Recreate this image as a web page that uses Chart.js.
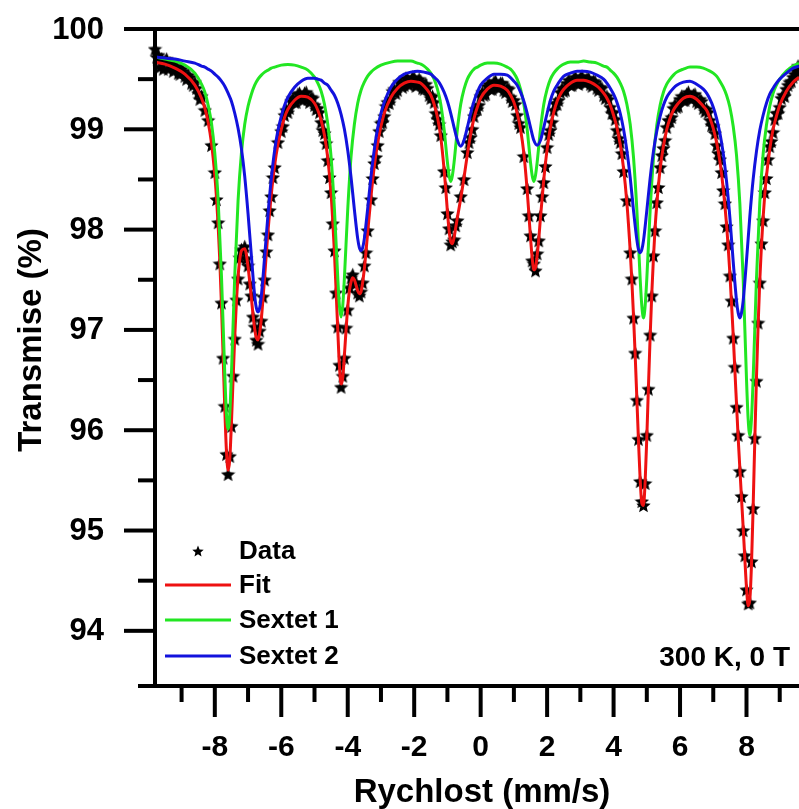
<!DOCTYPE html>
<html><head><meta charset="utf-8">
<script src="https://cdn.jsdelivr.net/npm/chart.js@4.4.0/dist/chart.umd.min.js"></script>
<style>html,body{margin:0;padding:0;background:#fff;overflow:hidden}canvas{display:block}</style>
</head><body>
<canvas id="c" width="799" height="809"></canvas>
<script>
// ---- values ----
const dataPoints = [[-9.8,99.80],[-9.75,99.72],[-9.7,99.74],[-9.65,99.62],[-9.6,99.70],[-9.55,99.60],[-9.5,99.68],[-9.45,99.70],[-9.4,99.60],[-9.35,99.66],[-9.3,99.64],[-9.25,99.58],[-9.2,99.63],[-9.1,99.56],[-9.0,99.60],[-8.9,99.53],[-8.8,99.54],[-8.7,99.46],[-8.6,99.47],[-8.5,99.36],[-8.4,99.33],[-8.3,99.19],[-8.2,99.09],[-8.1,98.84],[-8.0,98.57],[-7.95,98.30],[-7.9,98.07],[-7.85,97.66],[-7.8,97.27],[-7.75,96.72],[-7.7,96.24],[-7.65,95.76],[-7.6,95.56],[-7.55,95.74],[-7.5,96.04],[-7.45,96.54],[-7.4,96.91],[-7.35,97.30],[-7.3,97.51],[-7.25,97.72],[-7.2,97.80],[-7.15,97.78],[-7.1,97.83],[-7.05,97.71],[-7.0,97.64],[-6.95,97.46],[-6.9,97.34],[-6.85,97.13],[-6.8,97.03],[-6.75,96.90],[-6.7,96.86],[-6.65,96.99],[-6.6,97.09],[-6.55,97.33],[-6.5,97.50],[-6.45,97.78],[-6.4,97.95],[-6.35,98.19],[-6.3,98.33],[-6.25,98.52],[-6.2,98.62],[-6.1,98.87],[-6.0,98.98],[-5.9,99.14],[-5.8,99.17],[-5.7,99.28],[-5.6,99.27],[-5.5,99.35],[-5.4,99.31],[-5.3,99.36],[-5.2,99.30],[-5.1,99.32],[-5.0,99.24],[-4.9,99.21],[-4.8,99.07],[-4.7,98.96],[-4.6,98.69],[-4.5,98.37],[-4.45,98.06],[-4.4,97.79],[-4.35,97.37],[-4.3,97.03],[-4.25,96.65],[-4.2,96.43],[-4.15,96.54],[-4.1,96.72],[-4.05,97.02],[-4.0,97.20],[-3.95,97.42],[-3.9,97.52],[-3.85,97.55],[-3.8,97.46],[-3.75,97.47],[-3.7,97.37],[-3.65,97.34],[-3.6,97.38],[-3.55,97.47],[-3.5,97.64],[-3.45,97.77],[-3.4,97.99],[-3.3,98.30],[-3.2,98.66],[-3.1,98.84],[-3.0,99.06],[-2.9,99.13],[-2.8,99.27],[-2.7,99.30],[-2.6,99.40],[-2.5,99.39],[-2.4,99.47],[-2.3,99.44],[-2.2,99.50],[-2.1,99.46],[-2.0,99.51],[-1.9,99.45],[-1.8,99.48],[-1.7,99.40],[-1.6,99.41],[-1.5,99.31],[-1.4,99.27],[-1.3,99.10],[-1.2,98.94],[-1.1,98.58],[-1.05,98.42],[-1.0,98.16],[-0.95,98.01],[-0.9,97.85],[-0.85,97.88],[-0.8,97.90],[-0.75,98.04],[-0.7,98.09],[-0.6,98.33],[-0.5,98.50],[-0.4,98.77],[-0.3,98.92],[-0.2,99.13],[-0.1,99.20],[0.0,99.33],[0.1,99.34],[0.2,99.43],[0.3,99.40],[0.4,99.47],[0.5,99.42],[0.6,99.46],[0.7,99.39],[0.8,99.41],[0.9,99.32],[1.0,99.29],[1.1,99.14],[1.2,99.02],[1.3,98.73],[1.4,98.41],[1.45,98.14],[1.5,97.94],[1.55,97.69],[1.6,97.66],[1.65,97.59],[1.7,97.76],[1.75,97.89],[1.8,98.14],[1.9,98.47],[2.0,98.82],[2.1,98.99],[2.2,99.19],[2.3,99.25],[2.4,99.37],[2.5,99.38],[2.6,99.46],[2.7,99.44],[2.8,99.50],[2.9,99.46],[3.0,99.51],[3.1,99.47],[3.2,99.50],[3.3,99.45],[3.4,99.48],[3.5,99.41],[3.6,99.42],[3.7,99.34],[3.8,99.33],[3.9,99.22],[4.0,99.17],[4.1,98.99],[4.2,98.87],[4.3,98.58],[4.4,98.29],[4.5,97.77],[4.55,97.51],[4.6,97.12],[4.65,96.77],[4.7,96.30],[4.75,95.91],[4.8,95.49],[4.85,95.29],[4.9,95.25],[4.95,95.47],[5.0,95.95],[5.05,96.41],[5.1,96.95],[5.15,97.34],[5.2,97.74],[5.25,97.99],[5.3,98.27],[5.35,98.42],[5.4,98.62],[5.5,98.81],[5.6,99.02],[5.7,99.08],[5.8,99.21],[5.9,99.22],[6.0,99.30],[6.1,99.29],[6.2,99.35],[6.3,99.31],[6.4,99.34],[6.5,99.28],[6.6,99.30],[6.7,99.21],[6.8,99.20],[6.9,99.09],[7.0,99.03],[7.1,98.84],[7.2,98.70],[7.3,98.39],[7.35,98.26],[7.4,98.03],[7.45,97.85],[7.5,97.54],[7.55,97.29],[7.6,96.92],[7.65,96.63],[7.7,96.23],[7.75,95.95],[7.8,95.59],[7.85,95.34],[7.9,95.00],[7.95,94.75],[8.0,94.41],[8.05,94.27],[8.1,94.28],[8.15,94.69],[8.2,95.22],[8.25,95.92],[8.3,96.49],[8.35,97.07],[8.4,97.47],[8.45,97.86],[8.5,98.09],[8.55,98.37],[8.6,98.51],[8.7,98.83],[8.8,98.97],[8.9,99.16],[9.0,99.22],[9.1,99.34],[9.2,99.40],[9.3,99.47],[9.4,99.52],[9.5,99.58],[9.55,99.63]];

const dataPointsFlat = [[-9.15,99.62],[-9.05,99.55],[-8.95,99.58],[-8.85,99.50],[-8.75,99.52],[-8.65,99.44],[-8.55,99.41],[-8.45,99.30],[-5.95,99.03],[-5.85,99.19],[-5.75,99.21],[-5.65,99.31],[-5.55,99.27],[-5.45,99.36],[-5.35,99.29],[-5.25,99.37],[-5.15,99.27],[-5.05,99.31],[-4.95,99.20],[-4.85,99.17],[-4.75,98.99],[-4.65,98.86],[-4.55,98.52],[-3.25,98.51],[-3.15,98.72],[-3.05,98.98],[-2.95,99.07],[-2.85,99.23],[-2.75,99.26],[-2.65,99.38],[-2.55,99.36],[-2.45,99.47],[-2.35,99.42],[-2.25,99.51],[-2.15,99.44],[-2.05,99.52],[-1.95,99.43],[-1.85,99.50],[-1.75,99.41],[-1.65,99.45],[-1.55,99.34],[-1.45,99.33],[-1.35,99.16],[-1.25,99.05],[-0.35,98.87],[-0.25,99.00],[-0.15,99.20],[-0.05,99.24],[0.05,99.37],[0.15,99.35],[0.25,99.45],[0.35,99.40],[0.45,99.48],[0.55,99.41],[0.65,99.46],[0.75,99.37],[0.85,99.40],[0.95,99.28],[1.05,99.25],[1.15,99.06],[1.85,98.33],[1.95,98.63],[2.05,98.95],[2.15,99.07],[2.25,99.26],[2.35,99.29],[2.45,99.41],[2.55,99.39],[2.65,99.49],[2.75,99.44],[2.85,99.52],[2.95,99.45],[3.05,99.53],[3.15,99.46],[3.25,99.51],[3.35,99.43],[3.45,99.47],[3.55,99.39],[3.65,99.41],[3.75,99.31],[3.85,99.30],[3.95,99.16],[4.05,99.10],[4.15,98.91],[4.25,98.76],[5.45,98.74],[5.55,98.89],[5.65,99.09],[5.75,99.12],[5.85,99.25],[5.95,99.23],[6.05,99.33],[6.15,99.29],[6.25,99.37],[6.35,99.30],[6.45,99.35],[6.55,99.26],[6.65,99.28],[6.75,99.18],[6.85,99.17],[6.95,99.04],[7.05,98.96],[7.15,98.76],[7.25,98.57],[8.65,98.70],[8.75,98.88],[8.85,99.10],[8.95,99.16],[9.05,99.31],[9.15,99.33],[9.25,99.44],[9.35,99.48],[9.45,99.55],[9.52,99.60]];

const fitCurve = [[-9.8,99.67],[-9.5,99.65],[-9.2,99.61],[-8.9,99.55],[-8.6,99.44],[-8.4,99.31],[-8.3,99.21],[-8.2,99.07],[-8.1,98.86],[-8.0,98.54],[-7.95,98.32],[-7.9,98.04],[-7.85,97.69],[-7.8,97.25],[-7.75,96.74],[-7.7,96.22],[-7.65,95.79],[-7.6,95.60],[-7.55,95.71],[-7.5,96.07],[-7.45,96.51],[-7.4,96.93],[-7.35,97.28],[-7.3,97.53],[-7.25,97.70],[-7.2,97.79],[-7.1,97.81],[-7.0,97.63],[-6.95,97.48],[-6.9,97.32],[-6.85,97.15],[-6.8,97.01],[-6.75,96.92],[-6.7,96.90],[-6.65,96.97],[-6.6,97.11],[-6.55,97.31],[-6.5,97.53],[-6.45,97.76],[-6.4,97.98],[-6.3,98.35],[-6.2,98.64],[-6.1,98.85],[-6.0,99.00],[-5.9,99.12],[-5.8,99.20],[-5.6,99.29],[-5.4,99.33],[-5.2,99.32],[-5.0,99.26],[-4.9,99.19],[-4.8,99.09],[-4.7,98.94],[-4.6,98.71],[-4.5,98.35],[-4.45,98.08],[-4.4,97.77],[-4.35,97.39],[-4.3,97.00],[-4.25,96.64],[-4.2,96.46],[-4.15,96.52],[-4.1,96.75],[-4.05,97.00],[-4.0,97.23],[-3.95,97.39],[-3.9,97.48],[-3.85,97.52],[-3.8,97.50],[-3.7,97.39],[-3.65,97.36],[-3.6,97.38],[-3.5,97.61],[-3.4,97.97],[-3.3,98.33],[-3.2,98.63],[-3.1,98.86],[-3.0,99.03],[-2.9,99.16],[-2.7,99.32],[-2.5,99.41],[-2.3,99.46],[-2.1,99.48],[-1.9,99.47],[-1.8,99.46],[-1.7,99.43],[-1.6,99.39],[-1.5,99.34],[-1.4,99.25],[-1.3,99.12],[-1.2,98.92],[-1.1,98.60],[-1.05,98.40],[-1.0,98.18],[-0.95,97.99],[-0.9,97.88],[-0.85,97.86],[-0.8,97.92],[-0.75,98.02],[-0.7,98.12],[-0.6,98.31],[-0.5,98.52],[-0.4,98.75],[-0.3,98.95],[-0.2,99.11],[-0.1,99.22],[0.0,99.31],[0.2,99.40],[0.4,99.44],[0.6,99.43],[0.8,99.39],[0.9,99.34],[1.0,99.27],[1.1,99.16],[1.2,99.00],[1.3,98.76],[1.4,98.39],[1.45,98.16],[1.5,97.92],[1.55,97.72],[1.6,97.60],[1.65,97.62],[1.7,97.74],[1.75,97.91],[1.8,98.12],[1.9,98.50],[2.0,98.80],[2.1,99.02],[2.2,99.17],[2.3,99.28],[2.4,99.35],[2.5,99.40],[2.7,99.46],[2.9,99.49],[3.1,99.49],[3.3,99.47],[3.5,99.43],[3.6,99.40],[3.7,99.36],[3.8,99.31],[3.9,99.24],[4.0,99.14],[4.1,99.02],[4.2,98.85],[4.3,98.61],[4.4,98.27],[4.5,97.79],[4.55,97.49],[4.6,97.14],[4.65,96.75],[4.7,96.32],[4.75,95.89],[4.8,95.51],[4.85,95.27],[4.9,95.25],[4.95,95.49],[5.0,95.93],[5.05,96.44],[5.1,96.93],[5.15,97.36],[5.2,97.72],[5.25,98.02],[5.3,98.25],[5.4,98.60],[5.5,98.83],[5.6,99.00],[5.7,99.11],[5.8,99.19],[5.9,99.24],[6.1,99.31],[6.3,99.33],[6.5,99.30],[6.7,99.23],[6.8,99.19],[6.9,99.11],[7.0,99.01],[7.1,98.87],[7.2,98.68],[7.3,98.41],[7.4,98.05],[7.45,97.82],[7.5,97.56],[7.55,97.26],[7.6,96.95],[7.65,96.60],[7.7,96.26],[7.75,95.92],[7.8,95.62],[7.85,95.32],[7.9,95.03],[7.95,94.72],[8.0,94.43],[8.05,94.25],[8.1,94.31],[8.15,94.66],[8.2,95.24],[8.25,95.90],[8.3,96.52],[8.35,97.05],[8.4,97.49],[8.45,97.84],[8.5,98.12],[8.55,98.35],[8.6,98.53],[8.7,98.80],[8.8,99.00],[8.9,99.13],[9.0,99.24],[9.2,99.38],[9.4,99.47],[9.58,99.52]];

const sextet1 = [[-9.8,99.72],[-9.5,99.70],[-9.2,99.68],[-8.9,99.64],[-8.6,99.56],[-8.4,99.45],[-8.3,99.37],[-8.2,99.24],[-8.1,99.06],[-8.0,98.76],[-7.9,98.30],[-7.8,97.54],[-7.7,96.56],[-7.65,96.16],[-7.6,96.01],[-7.55,96.16],[-7.5,96.56],[-7.4,97.54],[-7.3,98.29],[-7.2,98.76],[-7.1,99.05],[-7.0,99.23],[-6.9,99.35],[-6.8,99.44],[-6.7,99.50],[-6.6,99.54],[-6.5,99.57],[-6.4,99.59],[-6.3,99.61],[-6.2,99.62],[-6.0,99.64],[-5.8,99.645],[-5.6,99.64],[-5.4,99.62],[-5.2,99.59],[-5.0,99.52],[-4.9,99.46],[-4.8,99.38],[-4.7,99.25],[-4.6,99.05],[-4.5,98.72],[-4.4,98.20],[-4.3,97.52],[-4.25,97.24],[-4.2,97.13],[-4.15,97.24],[-4.1,97.52],[-4.0,98.20],[-3.9,98.73],[-3.8,99.05],[-3.7,99.26],[-3.6,99.39],[-3.5,99.47],[-3.4,99.53],[-3.3,99.57],[-3.2,99.60],[-3.0,99.64],[-2.7,99.67],[-2.5,99.68],[-2.3,99.68],[-2.1,99.68],[-1.9,99.66],[-1.8,99.65],[-1.7,99.63],[-1.6,99.60],[-1.5,99.56],[-1.4,99.50],[-1.3,99.40],[-1.2,99.25],[-1.1,99.00],[-1.0,98.67],[-0.95,98.54],[-0.9,98.48],[-0.85,98.54],[-0.8,98.67],[-0.7,99.00],[-0.6,99.25],[-0.5,99.40],[-0.4,99.50],[-0.3,99.56],[-0.2,99.60],[-0.1,99.62],[0.0,99.64],[0.2,99.66],[0.4,99.66],[0.6,99.65],[0.8,99.62],[0.9,99.60],[1.0,99.56],[1.1,99.50],[1.2,99.40],[1.3,99.25],[1.4,99.00],[1.5,98.67],[1.55,98.54],[1.6,98.48],[1.65,98.54],[1.7,98.67],[1.8,99.00],[1.9,99.25],[2.0,99.40],[2.1,99.50],[2.2,99.56],[2.3,99.60],[2.4,99.63],[2.5,99.65],[2.7,99.67],[2.9,99.67],[3.1,99.68],[3.3,99.67],[3.5,99.66],[3.7,99.63],[3.8,99.62],[3.9,99.59],[4.0,99.56],[4.1,99.52],[4.2,99.46],[4.3,99.38],[4.4,99.25],[4.5,99.05],[4.6,98.72],[4.7,98.20],[4.8,97.51],[4.85,97.24],[4.9,97.12],[4.95,97.24],[5.0,97.51],[5.1,98.19],[5.2,98.71],[5.3,99.04],[5.4,99.24],[5.5,99.37],[5.6,99.45],[5.7,99.50],[5.8,99.54],[5.9,99.57],[6.1,99.60],[6.3,99.62],[6.5,99.62],[6.7,99.61],[6.9,99.58],[7.0,99.56],[7.1,99.53],[7.2,99.48],[7.3,99.42],[7.4,99.34],[7.5,99.22],[7.6,99.03],[7.7,98.74],[7.8,98.26],[7.9,97.51],[8.0,96.51],[8.05,96.11],[8.1,95.95],[8.15,96.11],[8.2,96.51],[8.3,97.51],[8.4,98.27],[8.5,98.75],[8.6,99.04],[8.7,99.23],[8.8,99.36],[8.9,99.44],[9.0,99.50],[9.2,99.58],[9.4,99.63],[9.58,99.66]];

const sextet2 = [[-9.8,99.72],[-9.5,99.71],[-9.2,99.70],[-8.9,99.68],[-8.6,99.66],[-8.4,99.63],[-8.3,99.62],[-8.2,99.60],[-8.1,99.58],[-8.0,99.55],[-7.9,99.52],[-7.8,99.48],[-7.7,99.43],[-7.6,99.36],[-7.5,99.28],[-7.4,99.16],[-7.3,99.01],[-7.2,98.81],[-7.1,98.53],[-7.0,98.16],[-6.9,97.74],[-6.8,97.34],[-6.75,97.22],[-6.7,97.18],[-6.65,97.22],[-6.6,97.34],[-6.5,97.73],[-6.4,98.15],[-6.3,98.51],[-6.2,98.79],[-6.1,98.99],[-6.0,99.13],[-5.9,99.24],[-5.8,99.32],[-5.6,99.42],[-5.4,99.48],[-5.2,99.51],[-5.0,99.51],[-4.9,99.50],[-4.8,99.49],[-4.7,99.46],[-4.6,99.44],[-4.5,99.39],[-4.4,99.34],[-4.3,99.26],[-4.2,99.15],[-4.1,99.00],[-4.0,98.79],[-3.9,98.52],[-3.8,98.20],[-3.7,97.91],[-3.65,97.82],[-3.6,97.79],[-3.55,97.82],[-3.5,97.91],[-3.4,98.21],[-3.3,98.53],[-3.2,98.80],[-3.1,99.01],[-3.0,99.16],[-2.9,99.27],[-2.7,99.42],[-2.5,99.50],[-2.3,99.55],[-2.1,99.57],[-1.9,99.58],[-1.7,99.57],[-1.5,99.55],[-1.4,99.52],[-1.3,99.49],[-1.2,99.44],[-1.1,99.37],[-1.0,99.28],[-0.9,99.16],[-0.8,99.02],[-0.7,98.89],[-0.6,98.83],[-0.5,98.89],[-0.4,99.02],[-0.3,99.16],[-0.2,99.28],[-0.1,99.37],[0.0,99.44],[0.2,99.51],[0.4,99.55],[0.6,99.55],[0.8,99.54],[1.0,99.48],[1.1,99.44],[1.2,99.37],[1.3,99.28],[1.4,99.16],[1.5,99.02],[1.6,98.89],[1.7,98.84],[1.8,98.89],[1.9,99.02],[2.0,99.16],[2.1,99.29],[2.2,99.38],[2.3,99.44],[2.4,99.49],[2.5,99.53],[2.7,99.56],[2.9,99.58],[3.1,99.58],[3.3,99.57],[3.5,99.54],[3.7,99.50],[3.8,99.46],[3.9,99.41],[4.0,99.35],[4.1,99.27],[4.2,99.16],[4.3,99.00],[4.4,98.79],[4.5,98.52],[4.6,98.19],[4.7,97.90],[4.75,97.80],[4.8,97.77],[4.85,97.80],[4.9,97.89],[5.0,98.19],[5.1,98.51],[5.2,98.78],[5.3,98.98],[5.4,99.13],[5.5,99.24],[5.6,99.32],[5.7,99.37],[5.8,99.41],[5.9,99.44],[6.1,99.47],[6.3,99.48],[6.5,99.45],[6.7,99.40],[6.8,99.36],[6.9,99.30],[7.0,99.22],[7.1,99.11],[7.2,98.96],[7.3,98.76],[7.4,98.48],[7.5,98.12],[7.6,97.68],[7.7,97.29],[7.75,97.17],[7.8,97.12],[7.85,97.17],[7.9,97.29],[8.0,97.69],[8.1,98.13],[8.2,98.50],[8.3,98.78],[8.4,98.99],[8.5,99.14],[8.6,99.26],[8.7,99.35],[8.8,99.41],[8.9,99.46],[9.0,99.50],[9.2,99.56],[9.4,99.61],[9.58,99.63]];

const seriesNames = ['Data', 'Fit', 'Sextet 1', 'Sextet 2'];
const xMajorTicks = [-8, -6, -4, -2, 0, 2, 4, 6, 8];
const xMinorTicks = [-9, -7, -5, -3, -1, 1, 3, 5, 7, 9];
const yMajorTicks = [94, 95, 96, 97, 98, 99, 100];
const yMinorTicks = [94.5, 95.5, 96.5, 97.5, 98.5, 99.5];
const xTitle = 'Rychlost (mm/s)';
const yTitle = 'Transmise (%)';
const noteText = '300 K, 0 T';

// ---- drawing ----
const FONT = "'Liberation Sans', Arial, sans-serif";
const COLORS = { fit: '#ee1111', s1: '#22e622', s2: '#1212dd' };

function makeStar(size) {
  const c = document.createElement('canvas');
  c.width = size; c.height = size;
  const g = c.getContext('2d');
  const cx = size / 2, cy = size / 2 + 0.6, R = size / 2, r = R * 0.45;
  g.beginPath();
  for (let i = 0; i < 10; i++) {
    const a = -Math.PI / 2 + i * Math.PI / 5;
    const rr = i % 2 ? r : R;
    g.lineTo(cx + rr * Math.cos(a), cy + rr * Math.sin(a));
  }
  g.closePath();
  g.fillStyle = '#000';
  g.fill();
  return c;
}
const star = makeStar(15);
const legendStar = makeStar(12);
const toXY = arr => arr.map(p => ({ x: p[0], y: p[1] }));

const decoPlugin = {
  id: 'deco',
  afterDraw(chart) {
    const { ctx, chartArea: a, scales: { x, y } } = chart;
    const L = (x1, y1, x2, y2) => { ctx.beginPath(); ctx.moveTo(x1, y1); ctx.lineTo(x2, y2); ctx.stroke(); };
    ctx.save();
    ctx.strokeStyle = '#000';
    ctx.lineWidth = 4;
    ctx.lineCap = 'butt';
    L(a.left, a.top - 2, a.left, a.bottom + 2);
    L(a.left - 31, a.top, a.right, a.top);
    L(a.left - 17, a.bottom, a.right, a.bottom);
    yMajorTicks.forEach(v => { const p = y.getPixelForValue(v); L(a.left - 31, p, a.left, p); });
    yMinorTicks.forEach(v => { const p = y.getPixelForValue(v); L(a.left - 17, p, a.left, p); });
    xMajorTicks.forEach(v => { const p = x.getPixelForValue(v); L(p, a.bottom, p, a.bottom + 31); });
    xMinorTicks.forEach(v => { const p = x.getPixelForValue(v); L(p, a.bottom, p, a.bottom + 16); });
    ctx.fillStyle = '#000';
    ctx.textBaseline = 'middle';
    ctx.font = 'bold 31px ' + FONT;
    ctx.textAlign = 'right';
    yMajorTicks.forEach(v => ctx.fillText(String(v), a.left - 51, y.getPixelForValue(v) + 1));
    ctx.font = 'bold 30px ' + FONT;
    ctx.textAlign = 'center';
    xMajorTicks.forEach(v => ctx.fillText(String(v), x.getPixelForValue(v), a.bottom + 62));
    ctx.font = 'bold 33px ' + FONT;
    ctx.fillText(xTitle, 482, 793);
    ctx.save();
    ctx.translate(32, 340);
    ctx.rotate(-Math.PI / 2);
    ctx.fillText(yTitle, 0, 0);
    ctx.restore();
    const rows = [551, 585, 620, 656];
    const cols = [null, COLORS.fit, COLORS.s1, COLORS.s2];
    ctx.font = 'bold 26px ' + FONT;
    ctx.textAlign = 'left';
    rows.forEach((ry, i) => {
      if (i === 0) {
        ctx.drawImage(legendStar, 198 - legendStar.width / 2, ry - legendStar.height / 2);
      } else {
        ctx.strokeStyle = cols[i];
        ctx.lineWidth = 3;
        L(165, ry, 231, ry);
      }
      ctx.fillText(seriesNames[i], 239, ry + 1);
    });
    ctx.font = 'bold 28px ' + FONT;
    ctx.textAlign = 'right';
    ctx.fillText(noteText, 790, 658);
    ctx.restore();
  }
};

const lineDs = (label, pts, color, order) => ({
  label, data: toXY(pts), showLine: true, borderColor: color, backgroundColor: color,
  borderWidth: 3, pointRadius: 0, cubicInterpolationMode: 'monotone', order, fill: false
});

new Chart(document.getElementById('c'), {
  type: 'scatter',
  data: {
    datasets: [
      lineDs(seriesNames[3], sextet2, COLORS.s2, 1),
      lineDs(seriesNames[2], sextet1, COLORS.s1, 2),
      lineDs(seriesNames[1], fitCurve, COLORS.fit, 3),
      { label: seriesNames[0], data: toXY(dataPoints.concat(dataPointsFlat)), showLine: false, pointStyle: star,
        pointRadius: 5, order: 4, clip: false }
    ]
  },
  options: {
    responsive: false, animation: false, devicePixelRatio: 1,
    events: [],
    layout: { autoPadding: false, padding: { left: 0, top: 29, right: 0, bottom: 0 } },
    plugins: { legend: { display: false }, tooltip: { enabled: false } },
    scales: {
      x: {
        type: 'linear', min: -9.8, max: 9.58,
        afterFit: s => { s.height = 123; },
        grid: { display: false, drawTicks: false }, border: { display: false },
        ticks: { display: false, stepSize: 1, includeBounds: false }
      },
      y: {
        type: 'linear', min: 93.45, max: 100,
        afterFit: s => { s.width = 155; },
        grid: { display: false, drawTicks: false }, border: { display: false },
        ticks: { display: false, stepSize: 1, includeBounds: false }
      }
    }
  },
  plugins: [decoPlugin]
});
</script>
</body></html>
